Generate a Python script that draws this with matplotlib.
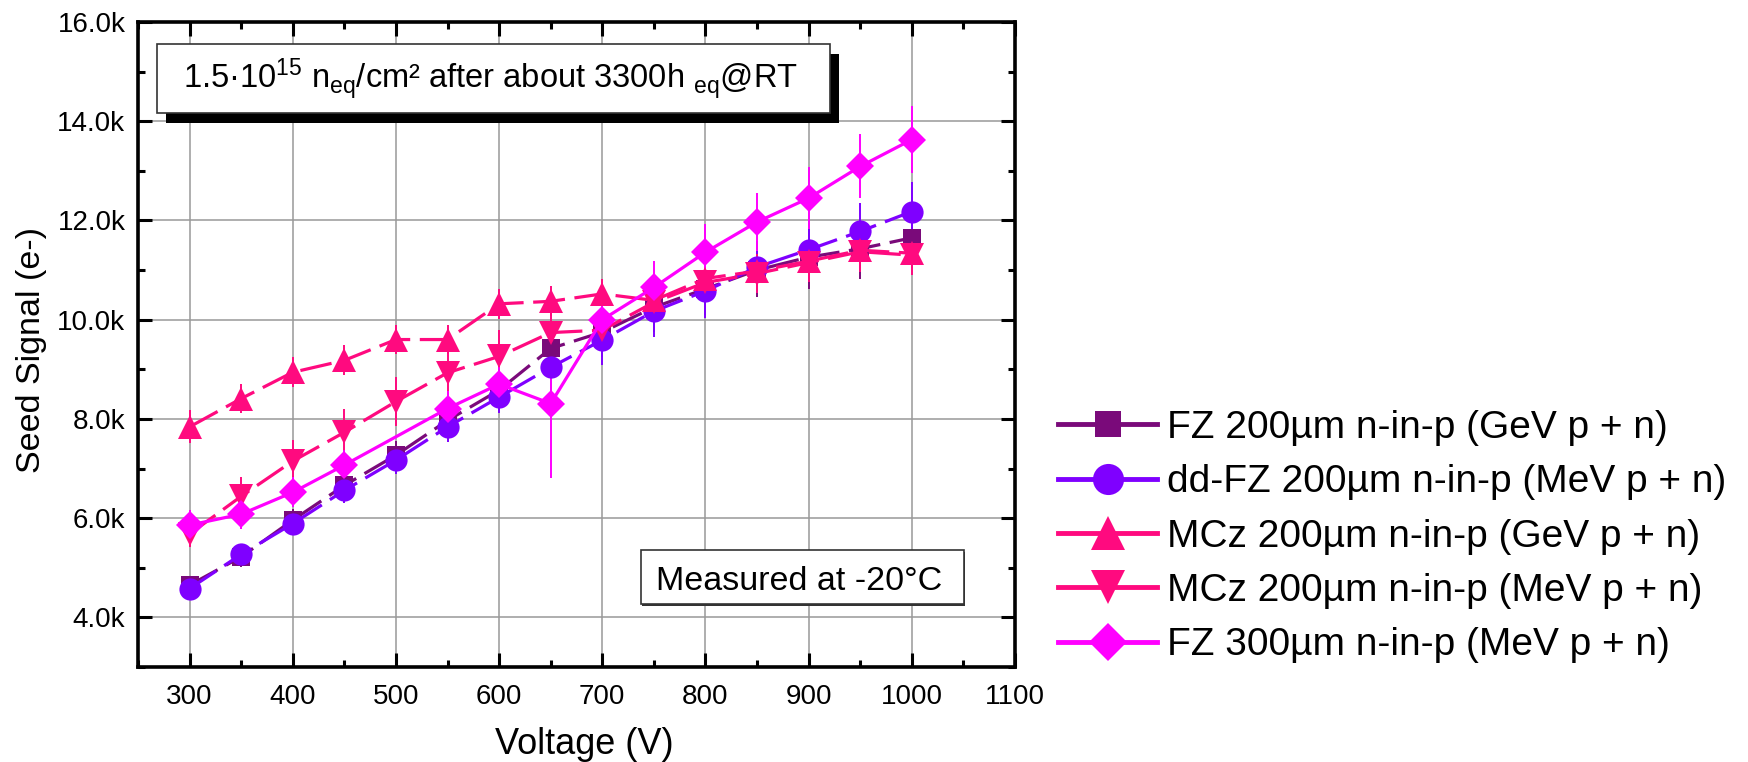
import numpy as np
import matplotlib
matplotlib.use("Agg")
import matplotlib.pyplot as plt
from matplotlib.lines import Line2D
from matplotlib.patches import Rectangle
from matplotlib.ticker import MultipleLocator, FuncFormatter

plt.rcParams['font.family'] = ['Liberation Sans', 'DejaVu Sans']
plt.rcParams['mathtext.fontset'] = 'custom'
plt.rcParams['mathtext.rm'] = 'Liberation Sans'
plt.rcParams['mathtext.it'] = 'Liberation Sans'

# data
voltage = [300, 350, 400, 450, 500, 550, 600, 650, 700, 750, 800, 850, 900, 950, 1000]
voltage_fz300 = [300, 350, 400, 450, 550, 600, 650, 700, 750, 800, 850, 900, 950, 1000]

fz200 = [4650, 5220, 5960, 6660, 7270, 7970, 8580, 9420, 9750, 10250, 10620, 11000, 11260, 11430, 11650]
fz200_err = [150, 200, 220, 250, 280, 300, 320, 500, 500, 500, 520, 550, 640, 600, 580]

ddfz200 = [4580, 5270, 5890, 6560, 7170, 7840, 8440, 9040, 9590, 10170, 10580, 11060, 11410, 11780, 12180]
ddfz200_err = [150, 200, 220, 250, 280, 300, 330, 500, 500, 520, 540, 520, 540, 580, 590]

mcz_gev = [7840, 8410, 8940, 9180, 9600, 9600, 10320, 10370, 10520, 10390, 10830, 10980, 11180, 11400, 11340]
mcz_gev_err = [330, 300, 300, 300, 300, 300, 300, 300, 300, 300, 300, 300, 300, 300, 300]

mcz_mev = [5680, 6440, 7150, 7730, 8350, 8930, 9260, 9740, 9790, 10350, 10750, 10930, 11150, 11370, 11300]
mcz_mev_err = [260, 380, 420, 470, 500, 450, 530, 500, 400, 400, 400, 400, 400, 400, 400]

fz300 = [5860, 6080, 6520, 7070, 8210, 8700, 8310, 10000, 10650, 11360, 11970, 12450, 13090, 13630]
fz300_err = [300, 300, 300, 300, 350, 350, 1500, 490, 530, 560, 585, 620, 645, 670]

labels = ['FZ 200µm n-in-p (GeV p + n)',
          'dd-FZ 200µm n-in-p (MeV p + n)',
          'MCz 200µm n-in-p (GeV p + n)',
          'MCz 200µm n-in-p (MeV p + n)',
          'FZ 300µm n-in-p (MeV p + n)']
colors = ['#7a0a7a', '#7f00ff', '#ff0a7f', '#ff0a7f', '#ff00ff']
markers = ['s', 'o', '^', 'v', 'D']
msizes = [13.5, 16, 17, 17, 14]
dashed = [True, True, True, True, False]

series = [(voltage, fz200, fz200_err), (voltage, ddfz200, ddfz200_err),
          (voltage, mcz_gev, mcz_gev_err), (voltage, mcz_mev, mcz_mev_err),
          (voltage_fz300, fz300, fz300_err)]

fig = plt.figure(figsize=(17.49, 7.62), dpi=100)
W, H = 1749, 762
ax = fig.add_axes([138 / W, 1 - 667 / H, (1015 - 138) / W, (667 - 22) / H])

for (x, y, e), c, m, ms, d in zip(series, colors, markers, msizes, dashed):
    cont = ax.errorbar(x, y, yerr=e, color=c, marker=m, markersize=ms, lw=2.3,
                       elinewidth=1.4, capsize=4.7, capthick=1.4, markeredgewidth=0)
    if d:
        cont[0].set_dashes((10, 3))

ax.set_xlim(250, 1100)
ax.set_ylim(3000, 16000)
ax.xaxis.set_major_locator(MultipleLocator(100))
ax.xaxis.set_minor_locator(MultipleLocator(50))
ax.yaxis.set_major_locator(MultipleLocator(2000))
ax.yaxis.set_minor_locator(MultipleLocator(1000))
ax.set_xticks(range(300, 1101, 100))
ax.yaxis.set_major_formatter(FuncFormatter(lambda v, p: f'{v / 1000:.1f}k'))
ax.grid(True, which='major', color='#999999', lw=1.1)
ax.set_axisbelow(True)
ax.tick_params(which='both', direction='in', top=True, right=True, width=2.2,
               labelsize=20)
ax.tick_params(which='major', length=10)
ax.tick_params(which='minor', length=5)
ax.tick_params(axis='y', pad=9)
ax.tick_params(axis='x', pad=12)
for s in ax.spines.values():
    s.set_linewidth(2.6)

fig.text(584 / W, 1 - 745 / H, 'Voltage (V)', fontsize=26, ha='center', va='center')
fig.text(32 / W, 1 - 350 / H, 'Seed Signal (e-)', fontsize=24.5, rotation=90,
         ha='center', va='center')

# annotation box 1 with drop shadow
fig.patches.append(Rectangle((166.5 / W, 1 - 122.5 / H), 673 / W, 69 / H,
                             transform=fig.transFigure, fc='black', ec='none', zorder=2))
fig.patches.append(Rectangle((157 / W, 1 - 113 / H), 673 / W, 69 / H,
                             transform=fig.transFigure, fc='white', ec='#333333',
                             lw=1.2, zorder=3))
fig.text(183 / W, 1 - 89 / H,
         r'1.5·10$^{15}$ n$_{\rm eq}$/cm² after about 3300h $_{\rm eq}$@RT',
         fontsize=23.5, ha='left', va='baseline', zorder=4)

# annotation box 2
fig.patches.append(Rectangle((642 / W, 1 - 605.5 / H), 323 / W, 54 / H,
                             transform=fig.transFigure, fc='#333333', ec='none', zorder=2))
fig.patches.append(Rectangle((641 / W, 1 - 604 / H), 323 / W, 54 / H,
                             transform=fig.transFigure, fc='white', ec='#333333',
                             lw=1.2, zorder=3))
fig.text(799.5 / W, 1 - 590 / H, 'Measured at -20°C', fontsize=24.5,
         ha='center', va='baseline', zorder=4)

handles = [Line2D([], [], color=c, marker=m, markersize=ms * 1.4, lw=3.5,
                  markeredgewidth=0)
           for c, m, ms in zip(colors, markers, msizes)]
fig.legend(handles, labels, loc='upper left', bbox_to_anchor=(1058 / W, 1 - 410 / H),
           frameon=False, fontsize=28, handlelength=2.55, handletextpad=0.25,
           labelspacing=0.47, borderpad=0, borderaxespad=0)

fig.savefig('out.png', dpi=100)
